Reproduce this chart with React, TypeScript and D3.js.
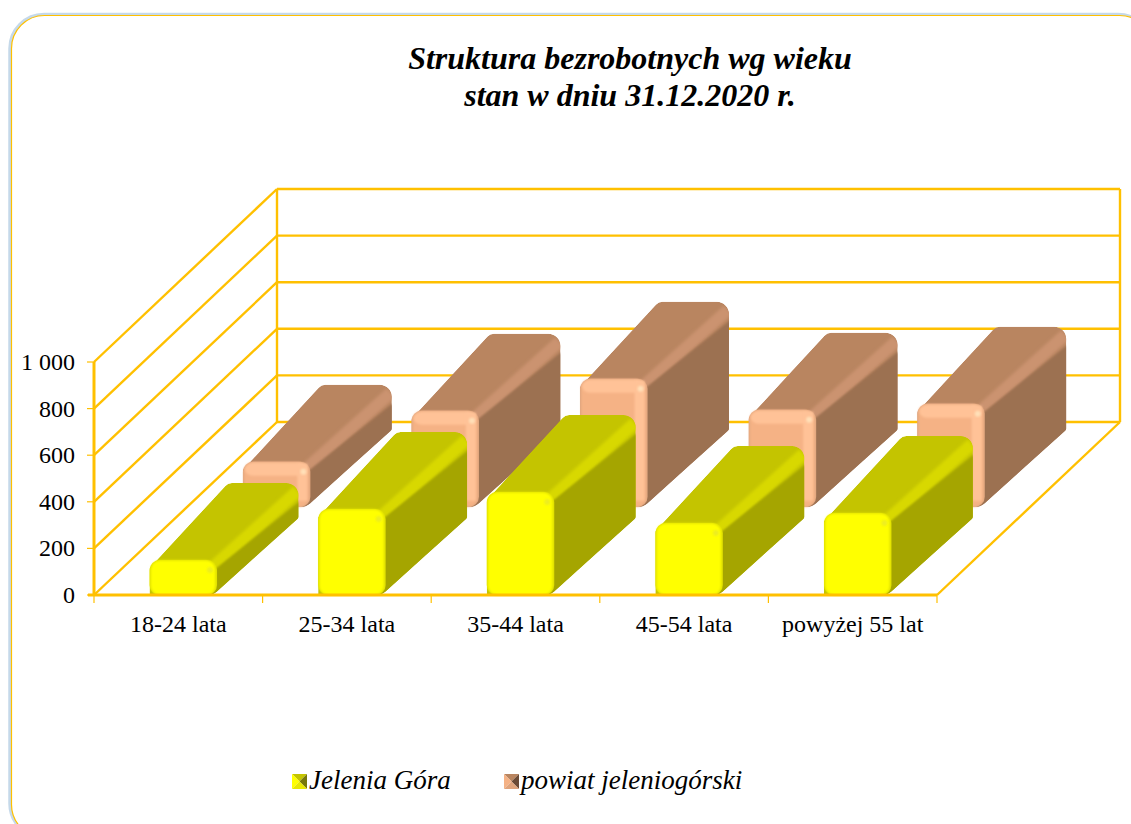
import React from 'react';
import * as d3 from 'd3';

const categories = ['18-24 lata', '25-34 lata', '35-44 lata', '45-54 lata', 'powyżej 55 lat'];
const jeleniaGora = [150, 369, 442, 309, 352];
const powiat = [193, 412, 549, 416, 442];
const yTicks = [0, 200, 400, 600, 800, 1000];
const yTickLabels = ['0', '200', '400', '600', '800', '1 000'];
const titleLines = ['Struktura bezrobotnych wg wieku', 'stan w dniu 31.12.2020 r.'];

const W = 1131, H = 824;
const x = d3.scaleBand<string>().domain(categories).range([94, 937]).paddingInner(0.6).paddingOuter(0.3);
const y = d3.scaleLinear().domain([0, 1000]).range([595, 362]);
const depthX = d3.scaleLinear().domain([0, 1]).range([0, 183]);
const depthY = d3.scaleLinear().domain([0, 1]).range([0, -173]);

type P = [number, number, number];
function rounded(pts: P[]) {
  const p = d3.path();
  const n = pts.length;
  const s = [(pts[n - 1][0] + pts[0][0]) / 2, (pts[n - 1][1] + pts[0][1]) / 2];
  p.moveTo(s[0], s[1]);
  for (let i = 0; i < n; i++) {
    const a = pts[i], b = pts[(i + 1) % n];
    const m = [(a[0] + b[0]) / 2, (a[1] + b[1]) / 2];
    p.arcTo(a[0], a[1], m[0], m[1], a[2]);
    p.lineTo(m[0], m[1]);
  }
  p.closePath();
  return p.toString();
}

const yellow = { id: 'y', front: '#FFFF00', edge: '#DEDE00', top: '#C4C400', side: '#A5A500', hi: '#D8D800', spec: '#EDED20', dark: '#77770A', low: '#E8E800' };
const brown = { id: 'b', front: '#F5B285', edge: '#E2A77F', top: '#B98560', side: '#9C7151', hi: '#CB9370', spec: '#FFE0B8', band: '#FFC297', dark: '#6B4A35', low: '#E0A47C' };

function Bar({ cat, v, t0, t1, c }: { cat: string; v: number; t0: number; t1: number; c: any }) {
  const ox = depthX(t0), oy = depthY(t0);
  const dx = depthX(t1 - t0), dy = depthY(t1 - t0);
  const x0 = x(cat)! + ox + 5, x1 = x0 + x.bandwidth();
  const base = y(0) + oy;
  const top = y(v) + oy;
  const h = base - top;
  const r = Math.min(10, h / 3);
  const cid = `sil-${c.id}-${categories.indexOf(cat)}`;
  const sil = rounded([
    [x0, top + 8, 0],
    [x0 + dx - 3, top + dy, 9],
    [x1 + dx, top + dy, 12],
    [x1 + dx, base + dy, 3],
    [x1 - 4, base, 14],
    [x0, base, 0],
  ]);
  const side = rounded([[x1 - 8, top + 14, 0], [x1 + dx + 4, top + dy + 16, 0], [x1 + dx + 4, base + dy + 8, 0], [x1 - 8, base + 8, 0]]);
  return (
    <g>
      <clipPath id={cid}><path d={sil} /></clipPath>
      <g clipPath={`url(#${cid})`}>
        <path d={sil} fill={c.top} />
        <line x1={x1 - 4} y1={top + 7} x2={x1 + dx - 1} y2={top + dy + 8} stroke={c.hi} strokeWidth={12} filter="url(#soft)" />
        <path d={side} fill={c.side} filter="url(#soft1)" />
      </g>
      <rect x={x0} y={top} width={x1 - x0} height={h} rx={r} ry={r} fill={c.edge} />
      <rect x={x0 + 1.2} y={top + 0.5} width={x1 - x0 - 3} height={h - 0.5} rx={r - 1} ry={r - 1} fill={c.front} filter="url(#soft1)" />
      {c.band && <rect x={x0 + 2} y={top + 1} width={x1 - x0 - 5} height={Math.min(13, h / 2)} rx={r - 1} fill={c.band} filter="url(#soft1)" />}
      {c.band && <rect x={x1 - 13} y={top + 2} width={10} height={h - 8} fill={c.band} filter="url(#soft1)" />}
      <circle cx={x1 - 7} cy={top + 10} r={3} fill={c.spec} filter="url(#soft1)" />
    </g>
  );
}

function Swatch({ sx, sy, c }: { sx: number; sy: number; c: any }) {
  const s = 15, m = s / 2;
  const mx = sx + m, my = sy + m;
  return (
    <g>
      <path d={`M${sx},${sy}L${sx + s},${sy}L${mx},${my}Z`} fill={c.top} />
      <path d={`M${sx + s},${sy}L${sx + s},${sy + s}L${mx},${my}Z`} fill={c.dark} />
      <path d={`M${sx},${sy}L${mx},${my}L${sx},${sy + s}Z`} fill={c.front} />
      <path d={`M${sx},${sy + s}L${mx},${my}L${sx + s},${sy + s}Z`} fill={c.low} />
    </g>
  );
}

const gridColor = '#FFC000';
const serif = "'Liberation Serif', 'Times New Roman', serif";

export default function App() {
  const bx = depthX(1), by = depthY(1);
  const xEdges = [...categories.map(c => x(c)! - x.step() * 0.3), 937];
  return (
    <svg width={W} height={H} style={{ position: 'absolute', left: 0, top: 0, background: '#fff' }} fontFamily={serif}>
      <defs>
        <filter id="soft" x="-20%" y="-20%" width="140%" height="140%"><feGaussianBlur stdDeviation="1.6" /></filter>
        <filter id="soft1" x="-20%" y="-20%" width="140%" height="140%"><feGaussianBlur stdDeviation="1" /></filter>
      </defs>
      <rect x={10} y={14.5} width={1142} height={823} rx={34} fill="none" stroke="#C5D9EA" strokeWidth={3.5} />
      <rect x={11.5} y={15.5} width={1141} height={822} rx={33} fill="#fff" stroke={gridColor} strokeWidth={1.2} />

      <g fontStyle="italic" fontWeight="bold" fontSize={32} textAnchor="middle" fill="#000">
        {titleLines.map((l, i) => <text key={l} x={630} y={69 + i * 37}>{l}</text>)}
      </g>

      <g fill="none" stroke={gridColor} strokeWidth={2.4}>
        {yTicks.map(t => (
          <g key={t}>
            <line x1={94} y1={y(t)} x2={94 + bx} y2={y(t) + by} />
            <line x1={94 + bx} y1={y(t) + by} x2={937 + bx} y2={y(t) + by} />
          </g>
        ))}
        <line x1={94 + bx} y1={y(0) + by} x2={94 + bx} y2={y(1000) + by} />
        <line x1={937 + bx} y1={y(0) + by} x2={937 + bx} y2={y(1000) + by} />
        <line x1={937} y1={y(0)} x2={937 + bx} y2={y(0) + by} />
        <line x1={94} y1={y(0)} x2={94} y2={y(1000)} strokeWidth={3} />
      </g>

      {categories.map((c, i) => <Bar key={c} cat={c} v={powiat[i]} t0={0.51} t1={0.955} c={brown} />)}
      {categories.map((c, i) => <Bar key={c} cat={c} v={jeleniaGora[i]} t0={0} t1={0.445} c={yellow} />)}

      <g stroke={gridColor}>
        <line x1={88} y1={y(0)} x2={937} y2={y(0)} strokeWidth={2.8} />
        {xEdges.map((e, i) => <line key={i} x1={e} x2={e} y1={y(0)} y2={y(0) + 8} strokeWidth={1.2} />)}
        {yTicks.map(t => <line key={t} x1={87} x2={94} y1={y(t)} y2={y(t)} strokeWidth={1.2} />)}
      </g>

      <g fontSize={24} fill="#000">
        {yTicks.map((t, i) => <text key={t} x={75} y={y(t) + 8} textAnchor="end">{yTickLabels[i]}</text>)}
        {categories.map(c => <text key={c} x={x(c)! + x.bandwidth() / 2} y={632} textAnchor="middle">{c}</text>)}
      </g>

      <Swatch sx={292} sy={774} c={yellow} />
      <Swatch sx={504} sy={774} c={brown} />
      <g fontSize={27} fontStyle="italic" fill="#000">
        <text x={309} y={789}>Jelenia Góra</text>
        <text x={521} y={789}>powiat jeleniogórski</text>
      </g>
    </svg>
  );
}
